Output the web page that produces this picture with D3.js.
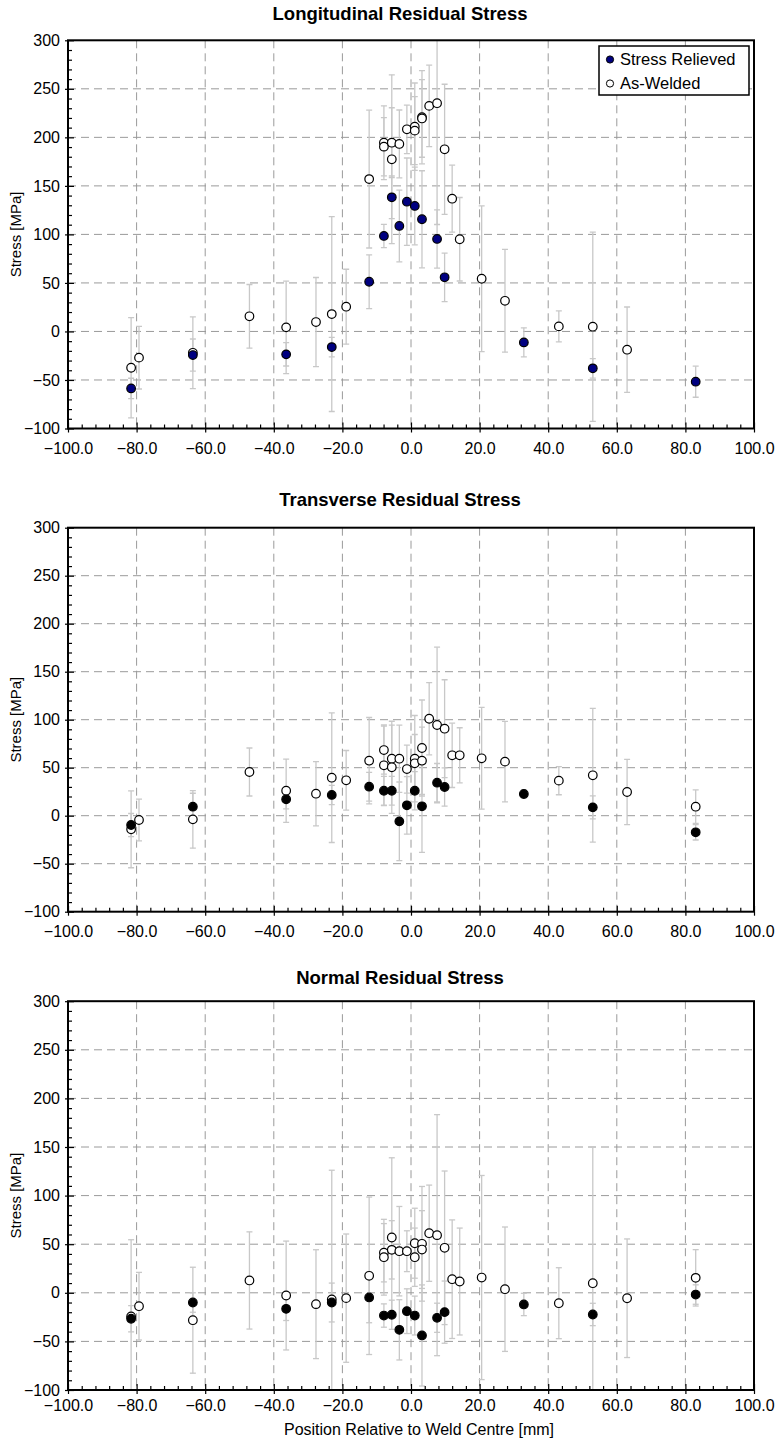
<!DOCTYPE html>
<html>
<head>
<meta charset="utf-8">
<script src="https://cdn.jsdelivr.net/npm/d3@7/dist/d3.min.js"></script>
<style>
body { margin: 0; background: #fff; }
text { font-family: "Liberation Sans", Arial, Helvetica, sans-serif; fill: #000; }
</style>
</head>
<body>
<script>
// measurement positions relative to weld centre [mm]
var awPos = [-81.6, -79.3, -63.6, -47.1, -36.4, -27.7, -23.1, -18.9, -12.2, -7.9, -7.9, -5.6, -5.6, -3.4, -1.2,
             1.1, 1.1, 3.2, 3.2, 5.3, 7.6, 9.8, 12.0, 14.2, 20.6, 27.4, 43.1, 53.0, 63.0, 83.0];
var srPos = [-81.6, -63.6, -36.4, -23.1, -12.2, -7.9, -5.6, -3.4, -1.2, 1.1, 3.2, 7.6, 9.8, 32.9, 53.0, 83.0];

// longitudinal stress [MPa]
var longAW    = [-37.4, -27, -22, 15.6, 4.2, 9.7, 17.9, 25.5, 157, 194.5, 190.4, 194.5, 177.4, 193.2, 208.3,
                 211, 206.9, 220.7, 219.5, 232.4, 235.2, 187.7, 136.8, 95, 54.3, 31.6, 5.2, 4.9, -18.8, null];
var longAWErr = [51.7, 32.3, 37, 32.8, 47.6, 45.9, 100.4, 38.6, 71, 38, 30, 36, 87, 35, 25,
                 45, 35, 48, 40, 42, 125, 67, 34.5, 43, 75, 53, 16, 97.5, 44, null];
var longSR    = [-58.7, -24.3, -23.6, -16.1, 51.2, 98.4, 138.2, 108.7, 133.7, 129.3, 115.6, 95.3, 55.8, -11.3, -38, -51.8];
var longSRErr = [10.5, 16.5, 12, 10, 27.7, 12, 22, 37, 45, 40, 50, 30, 25, 15, 10, 16];

// transverse stress [MPa]
var transAW    = [-14.2, -4.5, -3.8, 45.5, 26, 22.9, 39.6, 36.9, 57.3, 68.4, 52.5, 59.4, 50.4, 59.4, 48.6,
                  59.4, 54.6, 70.5, 57.3, 101, 94.5, 90.6, 62.9, 62.9, 59.8, 56.3, 36.5, 42.1, 24.7, 9.4];
var transAWErr = [40, 21.7, 30, 25, 33, 33.5, 67.5, 31, 45, 25, 42, 35, 48, 35, 25,
                  45, 30, 50, 35, 37.7, 81, 51, 33.5, 28.7, 53, 42, 14.7, 69.6, 34, 17.4];
var transSR    = [-9.7, 9.4, 17.1, 21.6, 30.2, 26, 26, -5.9, 10.8, 26, 9.8, 34.4, 29.9, 22.6, 8.7, -17.3];
var transSRErr = [12, 14, 10, 10, 15, 15, 15, 41, 30, 20, 48, 20, 20, 4, 12, 8];

// normal stress [MPa]
var normAW    = [-24.4, -13.8, -28.2, 12.7, -2.8, -11.7, -6.9, -5.5, 17.5, 41.2, 36.6, 56.9, 44.2, 42.8, 42.8,
                 51, 36.6, 50.4, 44.5, 61.3, 59.3, 46.3, 14, 11.6, 15.7, 3.7, -10.7, 9.9, -5.6, 15.4];
var normAWErr = [79, 34.8, 54.5, 50, 56, 56, 133, 66, 81, 30, 39, 82, 30, 46, 21,
                 36, 30, 59, 40, 49.5, 124, 79, 61, 55, 105, 64, 36.5, 140, 61, 29];
var normSR    = [-26.7, -10, -16.5, -10, -4.8, -23.4, -22.6, -38.1, -18.9, -23.4, -43.9, -25.7, -19.9, -12, -22.3, -1.8];
var normSRErr = [13.5, 10, 12, 20, 26, 12, 15, 31, 23, 20, 52, 15, 32, 11.5, 11.5, 10];

var titles = ["Longitudinal Residual Stress", "Transverse Residual Stress", "Normal Residual Stress"];
var seriesNames = ["Stress Relieved", "As-Welded"];
var xTicks = [-100, -80, -60, -40, -20, 0, 20, 40, 60, 80, 100];
var yTicks = [-100, -50, 0, 50, 100, 150, 200, 250, 300];
var xLabel = "Position Relative to Weld Centre [mm]";
var yLabel = "Stress [MPa]";

var width = 779, height = 1442;

var svg = d3.select("body").append("svg")
	.attr("width", width)
	.attr("height", height);

var x = d3.scaleLinear().domain([-100, 100]).range([68, 754]);

var panels = [
	{ top: 40.3, bottom: 428.5, titleY: 19.5, labelGap: 10, aw: longAW, awErr: longAWErr, sr: longSR, srErr: longSRErr, srFill: "#000080", legend: true },
	{ top: 527.7, bottom: 911.7, titleY: 506, labelGap: 10, aw: transAW, awErr: transAWErr, sr: transSR, srErr: transSRErr, srFill: "#000" },
	{ top: 1001.2, bottom: 1390, titleY: 984.3, labelGap: 6, aw: normAW, awErr: normAWErr, sr: normSR, srErr: normSRErr, srFill: "#000" }
];

function toPoints(pos, vals, errs) {
	return pos.map(function(p, i) {
		return { x: p, y: vals[i], e: errs[i] };
	}).filter(function(d) { return d.y !== null; });
}

panels.forEach(function(p, k) {
	var y = d3.scaleLinear().domain([-100, 300]).range([p.bottom, p.top]);
	var g = svg.append("g");

	var clipId = "clip" + k;
	svg.append("clipPath").attr("id", clipId)
		.append("rect")
		.attr("x", x(-100)).attr("y", p.top)
		.attr("width", x(100) - x(-100)).attr("height", p.bottom - p.top);

	// title
	g.append("text")
		.attr("x", 400).attr("y", p.titleY)
		.attr("text-anchor", "middle")
		.style("font-size", "18.5px").style("font-weight", "bold")
		.text(titles[k]);

	// dashed grid
	g.selectAll(".vg").data(xTicks.slice(1, -1)).enter().append("line")
		.attr("x1", function(d) { return x(d); }).attr("x2", function(d) { return x(d); })
		.attr("y1", p.top).attr("y2", p.bottom)
		.attr("stroke", "#9a9a9a").attr("stroke-width", 1).attr("stroke-dasharray", "8,5");
	g.selectAll(".hg").data(yTicks.slice(1, -1)).enter().append("line")
		.attr("x1", x(-100)).attr("x2", x(100))
		.attr("y1", function(d) { return y(d); }).attr("y2", function(d) { return y(d); })
		.attr("stroke", "#9a9a9a").attr("stroke-width", 1).attr("stroke-dasharray", "8,5");

	var aw = toPoints(awPos, p.aw, p.awErr);
	var sr = toPoints(srPos, p.sr, p.srErr);

	// error bars
	var eb = g.append("g").attr("clip-path", "url(#" + clipId + ")");
	aw.concat(sr).forEach(function(d) {
		var cx = x(d.x), y1 = y(d.y + d.e), y2 = y(d.y - d.e);
		eb.append("line").attr("x1", cx).attr("x2", cx).attr("y1", y1).attr("y2", y2)
			.attr("stroke", "#c8c8c8").attr("stroke-width", 1.3);
		[y1, y2].forEach(function(yy) {
			eb.append("line").attr("x1", cx - 3).attr("x2", cx + 3).attr("y1", yy).attr("y2", yy)
				.attr("stroke", "#c8c8c8").attr("stroke-width", 1.3);
		});
	});

	// as-welded (open) then stress relieved (filled)
	g.selectAll(".aw").data(aw).enter().append("circle")
		.attr("cx", function(d) { return x(d.x); })
		.attr("cy", function(d) { return y(d.y); })
		.attr("r", 4.3)
		.attr("fill", "#fff").attr("stroke", "#000").attr("stroke-width", 1.2);
	g.selectAll(".sr").data(sr).enter().append("circle")
		.attr("cx", function(d) { return x(d.x); })
		.attr("cy", function(d) { return y(d.y); })
		.attr("r", 4.3)
		.attr("fill", p.srFill).attr("stroke", "#000").attr("stroke-width", 1.2);

	// axes
	var minorX = d3.range(-100, 100.1, 4).filter(function(v) { return v % 20 !== 0; });
	var minorY = d3.range(-100, 300.1, 10).filter(function(v) { return v % 50 !== 0; });

	var xAxis = g.append("g").attr("transform", "translate(0," + p.bottom + ")")
		.call(d3.axisBottom(x).tickValues(xTicks).tickFormat(d3.format(".1f")).tickSize(4).tickPadding(p.labelGap));
	g.append("g").attr("transform", "translate(0," + p.bottom + ")")
		.call(d3.axisBottom(x).tickValues(minorX).tickFormat("").tickSize(-4));
	g.append("g").attr("transform", "translate(0," + p.bottom + ")")
		.call(d3.axisBottom(x).tickValues(xTicks).tickFormat("").tickSize(-6));

	var yAxis = g.append("g").attr("transform", "translate(" + x(-100) + ",0)")
		.call(d3.axisLeft(y).tickValues(yTicks).tickFormat(d3.format("d")).tickSize(3).tickPadding(5));
	g.append("g").attr("transform", "translate(" + x(-100) + ",0)")
		.call(d3.axisLeft(y).tickValues(minorY).tickFormat("").tickSize(-4));
	g.append("g").attr("transform", "translate(" + x(-100) + ",0)")
		.call(d3.axisLeft(y).tickValues(yTicks).tickFormat("").tickSize(-6));

	g.selectAll(".domain").remove();
	g.selectAll(".tick line").attr("stroke", "#000").attr("stroke-width", 1.2);
	g.selectAll(".tick text").style("font-size", "16px").attr("fill", "#000");

	// frame
	g.append("rect")
		.attr("x", x(-100)).attr("y", p.top)
		.attr("width", x(100) - x(-100)).attr("height", p.bottom - p.top)
		.attr("fill", "none").attr("stroke", "#000").attr("stroke-width", 2);

	// y axis title
	g.append("text")
		.attr("transform", "translate(21," + ((p.top + p.bottom) / 2) + ") rotate(-90)")
		.attr("text-anchor", "middle")
		.style("font-size", "15px")
		.text(yLabel);

	// legend
	if (p.legend) {
		var lg = g.append("g");
		lg.append("rect").attr("x", 599).attr("y", 46).attr("width", 150).attr("height", 49)
			.attr("fill", "#fff").attr("stroke", "#000").attr("stroke-width", 1.5);
		seriesNames.forEach(function(name, i) {
			var ly = 59.5 + i * 24;
			lg.append("circle").attr("cx", 610).attr("cy", ly).attr("r", 3.6)
				.attr("fill", i === 0 ? p.srFill : "#fff").attr("stroke", "#000").attr("stroke-width", 1);
			lg.append("text").attr("x", 620).attr("y", ly).attr("dy", "0.35em")
				.style("font-size", "16.5px").text(name);
		});
	}
});

// x axis title
svg.append("text")
	.attr("x", 419).attr("y", 1435)
	.attr("text-anchor", "middle")
	.style("font-size", "16px")
	.text(xLabel);
</script>
</body>
</html>
